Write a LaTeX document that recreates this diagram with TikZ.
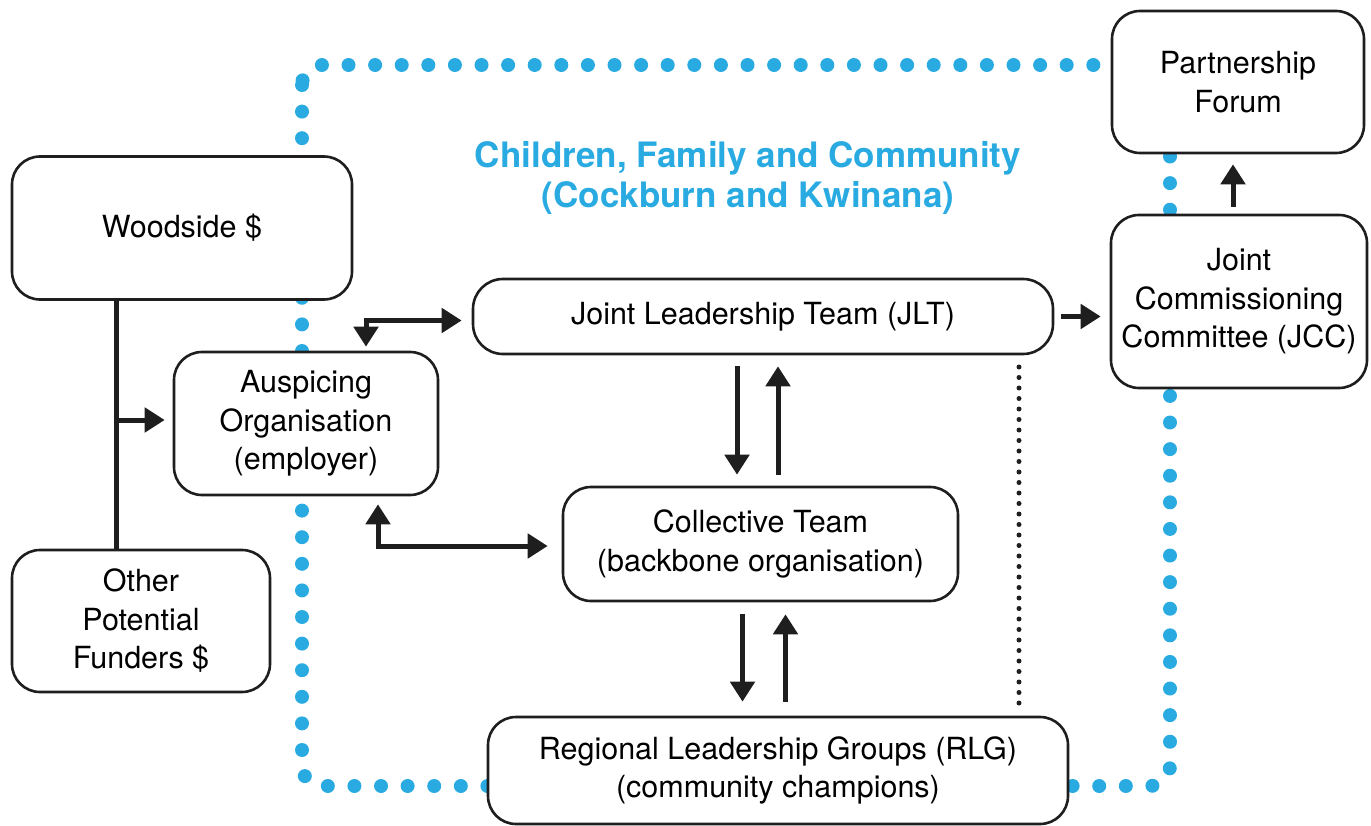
\documentclass[tikz,border=0pt]{standalone}
\usepackage{fontspec}
\setmainfont{TeX Gyre Heros}
\usetikzlibrary{arrows.meta}
\definecolor{dotblue}{RGB}{41,171,226}
\definecolor{ink}{RGB}{30,30,30}
\begin{document}
\begin{tikzpicture}[x=1pt,y=-1pt,
  box/.style={draw=ink, line width=2.6pt, rounded corners=28pt, fill=white,
    inner sep=0pt, align=center, font=\fontsize{30.5}{38.5}\selectfont},
  tip/.tip={Triangle[length=20pt,width=24pt]},
  flow/.style={draw=ink, line width=5pt, -tip},
  flowboth/.style={draw=ink, line width=5pt, tip-tip},
  title/.style={text=dotblue, align=center, font=\fontsize{35}{40}\selectfont\bfseries},
]
\useasboundingbox (0,0) rectangle (1371,826);

% boundary of the collective impact initiative
\draw[dotblue, line width=14pt, line cap=round, dash pattern=on 0pt off 26.6pt,
  rounded corners=20pt] (302,65) rectangle (1170,786);

\node[title] (head) at (748,178) {Children, Family and Community\\(Cockburn and Kwinana)};

% boxes
\node[box, minimum width=340pt, minimum height=143pt] (wood)  at (182,228) {Woodside \$};
\node[box, minimum width=258pt, minimum height=142pt] (other) at (141,621) {Other\\Potential\\Funders \$};
\node[box, minimum width=264pt, minimum height=143pt] (ausp)  at (306,423.5) {Auspicing\\Organisation\\(employer)};
\node[box, minimum width=580pt, minimum height=75pt, rounded corners=30pt] (jlt) at (763,316.5) {Joint Leadership Team (JLT)};
\node[box, minimum width=395pt, minimum height=114pt] (coll)  at (760.5,544) {Collective Team\\(backbone organisation)};
\node[box, minimum width=580pt, minimum height=107pt] (rlg)   at (778,770.5) {Regional Leadership Groups (RLG)\\(community champions)};
\node[box, minimum width=252pt, minimum height=142pt] (pf)    at (1238,82) {Partnership\\Forum};
\node[box, minimum width=256pt, minimum height=173pt] (jcc)   at (1239,301.5) {Joint\\Commissioning\\Committee (JCC)};

% funding trunk
\coordinate (trunk) at (116,420);
\draw[draw=ink, line width=5pt] (trunk |- wood.south) -- (trunk |- other.north);
\draw[flow, shorten >=8pt] (trunk) -- (trunk -| ausp.west);

% auspicing links
\draw[flowboth, shorten <=4pt, shorten >=10pt] ([xshift=60pt]ausp.north) |- ([yshift=-4pt]jlt.west);
\draw[flowboth, shorten <=8pt, shorten >=14pt] ([xshift=72pt]ausp.south) |- ([yshift=-2pt]coll.west);

% JLT <-> collective team
\draw[flow, shorten <=11pt, shorten >=11pt] ([xshift=-26pt]jlt.south) -- ([xshift=-26pt]jlt.south |- coll.north);
\draw[flow, shorten <=11pt, shorten >=11pt] ([xshift=15pt]jlt.south |- coll.north) -- ([xshift=15pt]jlt.south);

% collective team <-> RLG
\draw[flow, shorten <=12pt, shorten >=14pt] ([xshift=-18pt]coll.south) -- ([xshift=-18pt]coll.south |- rlg.north);
\draw[flow, shorten <=14pt, shorten >=12pt] ([xshift=25pt]coll.south |- rlg.north) -- ([xshift=25pt]coll.south);

% governance
\draw[flow, shorten <=7pt, shorten >=9pt] (jlt.east) -- (jlt.east -| jcc.west);
\draw[flow, shorten <=7pt, shorten >=10pt] ([xshift=-6pt]jcc.north) -- ([xshift=-6pt]jcc.north |- pf.south);

% divider
\coordinate (dtop) at (1019,367);
\coordinate (dbot) at (1019,704);
\draw[ink, line width=5pt, line cap=round, dash pattern=on 0pt off 10.5pt] (dtop) -- (dbot);
\end{tikzpicture}
\end{document}
